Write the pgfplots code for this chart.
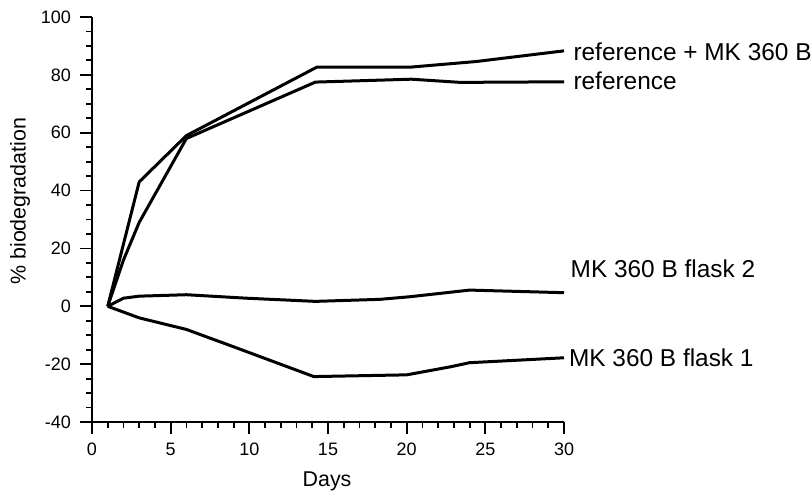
\documentclass[border=0pt]{standalone}
\usepackage{pgfplots}
\pgfplotsset{compat=1.18}
\usepackage{fontspec}
\setmainfont{Liberation Sans}
\begin{document}
\begin{tikzpicture}
\begin{axis}[
  name=ax,
  scale only axis,
  width=236pt, height=202.5pt,
  xmin=0, xmax=30, ymin=-40, ymax=100,
  axis x line=bottom, axis y line=left,
  axis line style={-, line width=1.1pt},
  xtick={0,5,...,30}, ytick={-40,-20,...,100},
  minor x tick num=4, minor y tick num=3,
  tick align=outside,
  major tick length=6pt, minor tick length=3pt,
  tick style={black, line width=0.9pt},
  /pgf/number format/assume math mode=true,
  ticklabel style={font=\fontsize{9}{10}\selectfont},
  xticklabel style={yshift=-1pt},
  yticklabel style={xshift=-1pt},
  xlabel={Days}, ylabel={\% biodegradation},
  label style={font=\fontsize{10.7}{12}\selectfont},
  xlabel style={at={(axis description cs:0.498,-0.146)}, anchor=center},
  ylabel style={at={(axis description cs:-0.1525,0.545)}, anchor=center},
  clip=false,
]
% reference + MK 360 B
\addplot[black, line width=1.5pt, line join=round, mark=none] coordinates {(1,0) (3,43) (6,59) (14.3,82.7) (20.3,82.7) (24.4,84.6) (30,88.3)};
% reference
\addplot[black, line width=1.5pt, line join=round, mark=none] coordinates {(1,0) (2,16) (3,29) (6,58) (14.2,77.5) (20.3,78.5) (23.4,77.4) (30,77.6)};
% MK 360 B flask 2
\addplot[black, line width=1.5pt, line join=round, mark=none] coordinates {(1,0) (2,2.8) (3,3.5) (6,4) (9.8,2.8) (14.2,1.7) (18.3,2.4) (20.2,3.3) (24,5.6) (30,4.7)};
% MK 360 B flask 1
\addplot[black, line width=1.5pt, line join=round, mark=none] coordinates {(1,0) (3,-4) (6,-8) (9,-14) (14.1,-24.3) (20,-23.7) (22.8,-20.9) (24,-19.5) (30,-17.8)};
\begin{scope}[every node/.style={anchor=west, inner sep=0pt, font=\fontsize{12.2}{14}\selectfont}]
\node at (axis cs:30.58,87.9) {reference + MK 360 B};
\node at (axis cs:30.58,78.0) {reference};
\node at (axis cs:30.4,12.9) {MK 360 B flask 2};
\node at (axis cs:30.3,-17.9) {MK 360 B flask 1};
\end{scope}
\end{axis}
\path ([xshift=-46pt,yshift=-38.5pt]ax.south west) rectangle ++(406pt,249.5pt);
\end{tikzpicture}
\end{document}
